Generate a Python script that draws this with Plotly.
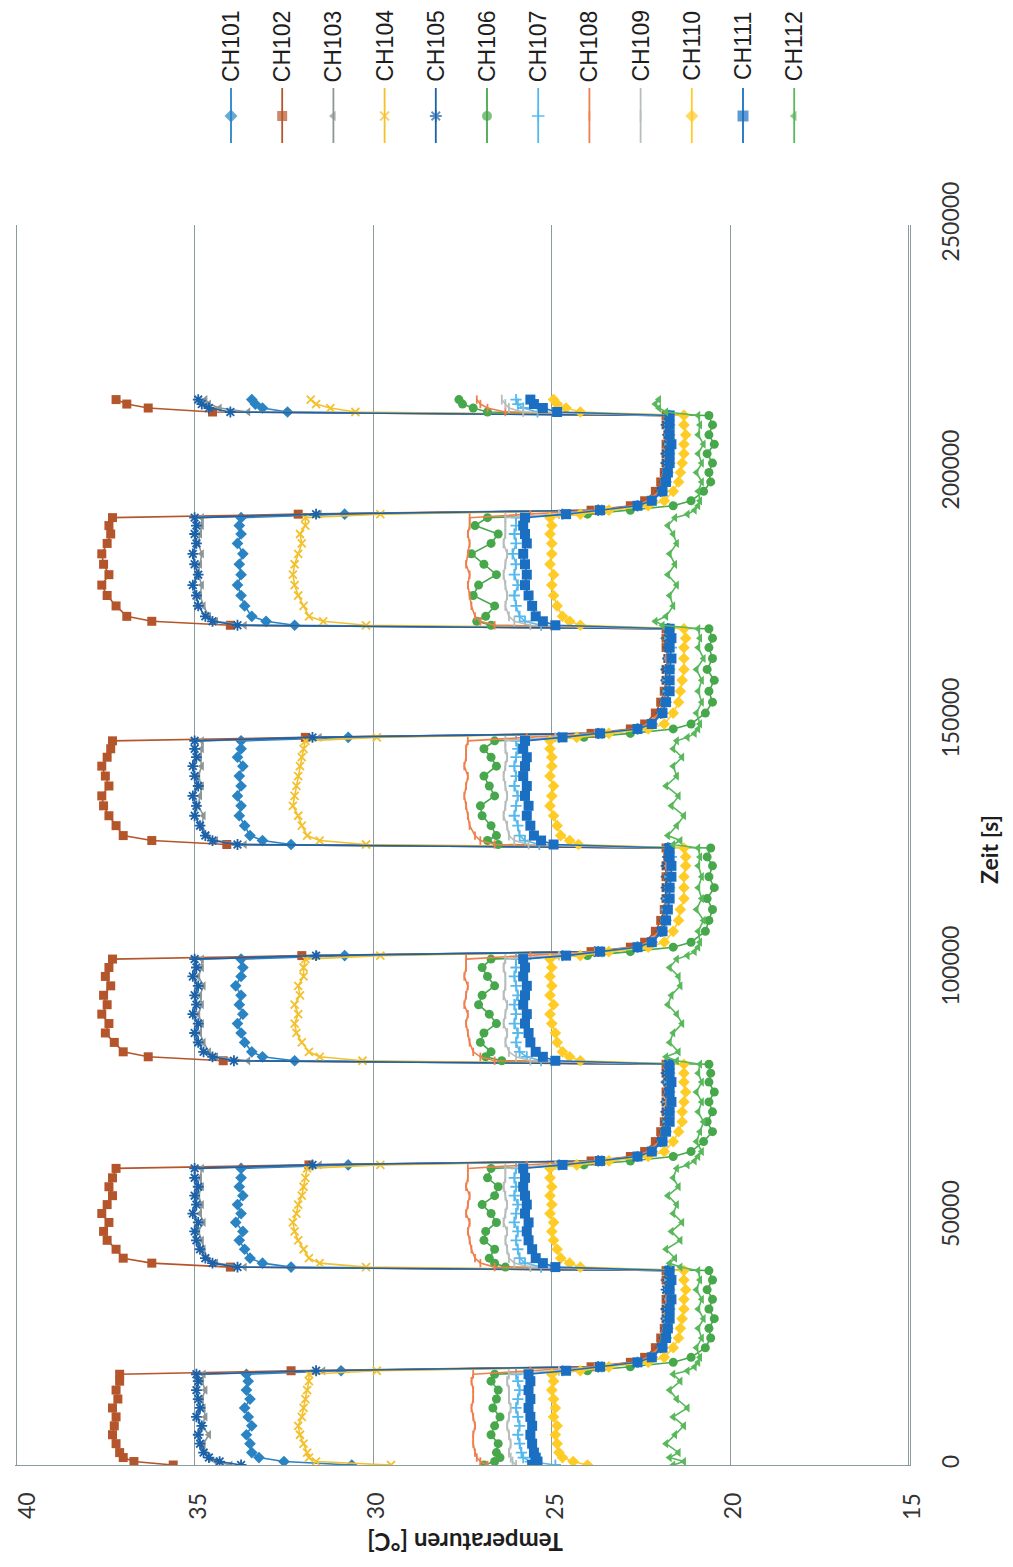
import plotly.graph_objects as go

# ---------------- data ----------------
# sample times [s], one list per phase (H = heated, C = cooled)
time_s = [
    [0, 700, 1500, 2500, 4300, 6100, 7900, 9700, 11500, 13300, 15100, 16900, 18300],
    [19000, 19800, 20700, 21700, 23650, 25600, 27550, 29500, 31450, 33400, 35350, 37300, 39200],
    [39900, 40700, 41700, 43500, 45300, 47100, 48900, 50700, 52500, 54300, 56100, 57900, 59800],
    [60500, 61300, 62200, 63200, 65200, 67200, 69200, 71200, 73200, 75200, 77200, 79000, 80800],
    [81500, 82300, 83300, 85200, 87100, 89000, 90900, 92800, 94700, 96600, 98500, 100300, 102000],
    [102700, 103500, 104400, 105400, 107600, 109800, 112000, 114200, 116400, 118600, 120800, 122600, 124400],
    [125100, 125900, 126900, 128900, 130900, 132900, 134900, 136900, 138900, 140900, 142700, 144400, 146000],
    [146700, 147500, 148400, 149400, 151600, 153800, 156000, 158200, 160400, 162600, 164800, 166700, 168600],
    [169300, 170100, 171100, 173200, 175300, 177400, 179500, 181600, 183700, 185800, 187700, 189400, 191000],
    [191700, 192500, 193400, 194400, 196300, 198200, 200100, 202000, 203900, 205800, 207700, 209700, 211600],
    [212300, 213100, 213900, 214800],
]

ch101 = [
    [30.6, 32.5, 33.2, 33.4, 33.45, 33.55, 33.4, 33.5, 33.6, 33.45, 33.55, 33.5, 33.55],
    [30.9, 23.7, 22.6, 22.2, 21.95, 21.85, 21.8, 21.8, 21.8, 21.75, 21.75, 21.8, 21.75],
    [32.3, 33.1, 33.45, 33.6, 33.75, 33.65, 33.85, 33.7, 33.8, 33.65, 33.75, 33.7, 33.7],
    [30.7, 23.7, 22.6, 22.2, 21.95, 21.85, 21.8, 21.8, 21.8, 21.75, 21.8, 21.75, 21.75],
    [32.2, 33.1, 33.4, 33.6, 33.7, 33.8, 33.65, 33.75, 33.7, 33.85, 33.7, 33.65, 33.7],
    [30.8, 23.8, 22.6, 22.2, 21.95, 21.85, 21.8, 21.8, 21.75, 21.8, 21.75, 21.75, 21.75],
    [32.3, 33.1, 33.45, 33.6, 33.75, 33.7, 33.8, 33.7, 33.75, 33.65, 33.8, 33.7, 33.7],
    [30.7, 23.7, 22.6, 22.2, 21.95, 21.85, 21.8, 21.8, 21.8, 21.75, 21.75, 21.8, 21.75],
    [32.2, 33.0, 33.4, 33.6, 33.7, 33.8, 33.7, 33.75, 33.65, 33.8, 33.7, 33.75, 33.7],
    [30.8, 23.7, 22.6, 22.2, 21.95, 21.85, 21.8, 21.8, 21.8, 21.75, 21.75, 21.75, 21.75],
    [32.4, 33.1, 33.3, 33.4],
]
ch102 = [
    [35.6, 36.7, 37.0, 37.1, 37.2, 37.3, 37.25, 37.2, 37.3, 37.15, 37.2, 37.1, 37.1],
    [32.3, 23.9, 22.8, 22.4, 22.1, 21.95, 21.85, 21.8, 21.8, 21.8, 21.75, 21.8, 21.8],
    [34.0, 36.2, 37.0, 37.2, 37.45, 37.55, 37.4, 37.6, 37.45, 37.3, 37.4, 37.3, 37.2],
    [31.8, 23.9, 22.8, 22.4, 22.1, 21.95, 21.85, 21.8, 21.8, 21.8, 21.75, 21.8, 21.8],
    [34.2, 36.3, 37.0, 37.25, 37.5, 37.4, 37.6, 37.45, 37.55, 37.35, 37.5, 37.4, 37.3],
    [32.0, 23.9, 22.8, 22.4, 22.1, 21.95, 21.85, 21.8, 21.8, 21.8, 21.8, 21.75, 21.8],
    [34.1, 36.2, 37.0, 37.2, 37.4, 37.55, 37.6, 37.4, 37.5, 37.6, 37.45, 37.35, 37.3],
    [31.9, 23.9, 22.8, 22.4, 22.1, 21.95, 21.85, 21.8, 21.8, 21.75, 21.8, 21.8, 21.8],
    [34.0, 36.2, 36.9, 37.2, 37.45, 37.6, 37.4, 37.55, 37.6, 37.45, 37.35, 37.4, 37.3],
    [32.1, 23.9, 22.8, 22.4, 22.1, 21.95, 21.85, 21.8, 21.8, 21.8, 21.75, 21.8, 21.8],
    [34.5, 36.3, 36.9, 37.2],
]
ch103 = [
    [34.0, 34.4, 34.6, 34.7, 34.75, 34.6, 34.8, 34.7, 34.75, 34.8, 34.7, 34.8, 34.75],
    [31.4, 23.7, 22.6, 22.2, 21.95, 21.85, 21.8, 21.8, 21.8, 21.75, 21.75, 21.8, 21.75],
    [33.6, 34.4, 34.65, 34.75, 34.8, 34.9, 34.75, 34.85, 34.8, 34.9, 34.8, 34.85, 34.8],
    [31.5, 23.7, 22.6, 22.2, 21.95, 21.85, 21.8, 21.8, 21.8, 21.75, 21.8, 21.75, 21.75],
    [33.5, 34.4, 34.6, 34.75, 34.85, 34.8, 34.9, 34.8, 34.85, 34.75, 34.9, 34.8, 34.8],
    [31.6, 23.7, 22.6, 22.2, 21.95, 21.85, 21.8, 21.8, 21.8, 21.75, 21.8, 21.75, 21.75],
    [33.6, 34.4, 34.65, 34.8, 34.75, 34.9, 34.85, 34.8, 34.9, 34.8, 34.85, 34.8, 34.8],
    [31.5, 23.7, 22.6, 22.2, 21.95, 21.85, 21.8, 21.8, 21.75, 21.8, 21.75, 21.8, 21.75],
    [33.6, 34.4, 34.6, 34.75, 34.85, 34.8, 34.9, 34.85, 34.8, 34.9, 34.85, 34.8, 34.8],
    [31.5, 23.7, 22.6, 22.2, 21.95, 21.85, 21.8, 21.8, 21.8, 21.75, 21.75, 21.8, 21.75],
    [33.5, 34.3, 34.6, 34.7],
]
ch104 = [
    [29.5, 31.6, 31.8, 31.85, 31.95, 32.05, 32.1, 32.0, 31.95, 31.9, 31.85, 31.8, 31.8],
    [29.9, 23.6, 22.6, 22.2, 21.9, 21.85, 21.8, 21.75, 21.75, 21.7, 21.75, 21.7, 21.75],
    [30.2, 31.5, 31.8, 31.95, 32.1, 32.2, 32.25, 32.15, 32.1, 32.0, 31.95, 31.9, 31.85],
    [29.8, 23.6, 22.6, 22.2, 21.9, 21.85, 21.8, 21.75, 21.75, 21.75, 21.7, 21.75, 21.75],
    [30.3, 31.5, 31.8, 32.0, 32.15, 32.2, 32.1, 32.2, 32.05, 32.1, 31.95, 31.95, 31.9],
    [29.8, 23.6, 22.6, 22.2, 21.9, 21.85, 21.8, 21.8, 21.75, 21.75, 21.7, 21.75, 21.75],
    [30.2, 31.5, 31.85, 32.0, 32.1, 32.25, 32.2, 32.15, 32.1, 32.05, 32.0, 31.95, 31.9],
    [29.9, 23.6, 22.6, 22.2, 21.9, 21.85, 21.8, 21.75, 21.75, 21.7, 21.75, 21.75, 21.75],
    [30.2, 31.4, 31.8, 31.95, 32.1, 32.2, 32.25, 32.2, 32.1, 32.0, 32.05, 31.9, 31.9],
    [29.8, 23.6, 22.6, 22.2, 21.9, 21.85, 21.8, 21.75, 21.75, 21.75, 21.7, 21.75, 21.75],
    [30.5, 31.2, 31.6, 31.75],
]
ch105 = [
    [33.7, 34.3, 34.6, 34.75, 34.85, 34.9, 34.8, 34.95, 34.85, 34.9, 34.95, 34.9, 34.95],
    [31.6, 23.7, 22.6, 22.2, 21.95, 21.85, 21.8, 21.8, 21.8, 21.75, 21.8, 21.75, 21.75],
    [33.8, 34.5, 34.7, 34.85, 34.95, 35.0, 34.9, 35.05, 34.95, 35.0, 34.9, 35.0, 35.0],
    [31.7, 23.7, 22.6, 22.2, 21.95, 21.85, 21.8, 21.8, 21.8, 21.75, 21.75, 21.8, 21.75],
    [33.9, 34.5, 34.75, 34.9, 35.0, 34.9, 35.05, 34.95, 35.0, 34.9, 35.05, 34.95, 35.0],
    [31.6, 23.7, 22.6, 22.2, 21.95, 21.85, 21.8, 21.8, 21.8, 21.75, 21.8, 21.75, 21.75],
    [33.8, 34.5, 34.7, 34.85, 35.0, 34.95, 35.05, 34.9, 35.0, 35.05, 34.95, 35.0, 35.0],
    [31.7, 23.7, 22.6, 22.2, 21.95, 21.85, 21.8, 21.8, 21.8, 21.75, 21.75, 21.75, 21.75],
    [33.8, 34.5, 34.7, 34.9, 34.95, 35.05, 34.9, 35.0, 35.05, 34.95, 35.0, 34.95, 35.0],
    [31.6, 23.7, 22.6, 22.2, 21.95, 21.85, 21.8, 21.8, 21.8, 21.75, 21.75, 21.8, 21.75],
    [34.0, 34.6, 34.8, 34.9],
]
ch106 = [
    [26.9, 26.6, 26.45, 26.55, 26.5, 26.7, 26.6, 26.45, 26.65, 26.55, 26.5, 26.7, 26.6],
    [24.0, 22.8, 21.6, 21.1, 20.7, 20.55, 20.6, 20.45, 20.6, 20.5, 20.65, 20.5, 20.6],
    [26.3, 26.6, 26.75, 26.6, 26.9, 26.85, 26.55, 26.7, 26.95, 26.6, 26.5, 26.8, 26.7],
    [24.1, 22.8, 21.6, 21.1, 20.75, 20.5, 20.65, 20.5, 20.6, 20.45, 20.6, 20.55, 20.6],
    [26.4, 26.85, 26.7, 27.0, 26.9, 26.55, 26.75, 27.05, 26.95, 26.6, 26.8, 26.95, 26.7],
    [24.0, 22.8, 21.6, 21.1, 20.7, 20.6, 20.5, 20.65, 20.45, 20.6, 20.5, 20.65, 20.55],
    [26.5, 26.8, 26.55, 26.7, 26.95, 27.0, 26.6, 26.75, 26.9, 26.55, 26.7, 26.9, 26.6],
    [24.1, 22.8, 21.6, 21.1, 20.7, 20.5, 20.6, 20.45, 20.65, 20.5, 20.6, 20.5, 20.6],
    [26.7, 27.1, 26.85, 26.6, 27.2, 27.05, 26.55, 26.9, 27.25, 26.7, 26.5, 27.15, 26.8],
    [24.0, 22.8, 21.6, 21.1, 20.75, 20.55, 20.6, 20.5, 20.65, 20.45, 20.6, 20.5, 20.6],
    [26.8, 27.2, 27.5, 27.6],
]
ch107 = [
    [24.9, 25.6, 25.8, 25.85, 25.9, 25.95, 25.9, 25.95, 26.0, 25.95, 25.9, 25.95, 26.0],
    [24.7, 23.6, 22.6, 22.2, 21.9, 21.8, 21.75, 21.75, 21.7, 21.7, 21.7, 21.7, 21.7],
    [25.3, 25.75, 25.9, 25.95, 26.0, 25.95, 26.05, 26.0, 25.95, 26.05, 26.0, 26.05, 26.0],
    [24.8, 23.6, 22.6, 22.2, 21.9, 21.8, 21.75, 21.7, 21.75, 21.7, 21.7, 21.7, 21.7],
    [25.3, 25.7, 25.9, 26.0, 25.95, 26.05, 26.0, 26.05, 25.95, 26.0, 26.05, 26.0, 26.0],
    [24.7, 23.6, 22.6, 22.2, 21.9, 21.8, 21.8, 21.75, 21.7, 21.7, 21.7, 21.65, 21.7],
    [25.35, 25.75, 25.9, 25.95, 26.05, 26.0, 25.95, 26.05, 26.0, 26.05, 26.0, 25.95, 26.0],
    [24.8, 23.6, 22.6, 22.2, 21.9, 21.8, 21.75, 21.75, 21.7, 21.7, 21.65, 21.7, 21.7],
    [25.3, 25.75, 25.9, 26.0, 26.05, 25.95, 26.05, 26.0, 26.1, 26.0, 26.05, 26.0, 26.0],
    [24.7, 23.6, 22.6, 22.2, 21.9, 21.8, 21.75, 21.7, 21.7, 21.7, 21.7, 21.7, 21.7],
    [25.4, 25.8, 25.95, 26.0],
]
ch108 = [
    [26.8, 27.0, 27.1, 27.15, 27.2, 27.2, 27.15, 27.2, 27.25, 27.2, 27.2, 27.25, 27.2],
    [25.6, 23.8, 22.7, 22.3, 22.0, 21.85, 21.8, 21.8, 21.75, 21.8, 21.75, 21.75, 21.75],
    [26.6, 27.0, 27.15, 27.25, 27.3, 27.35, 27.3, 27.4, 27.35, 27.3, 27.4, 27.35, 27.35],
    [25.7, 23.8, 22.7, 22.3, 22.0, 21.85, 21.8, 21.75, 21.8, 21.75, 21.75, 21.8, 21.75],
    [26.6, 27.0, 27.2, 27.3, 27.35, 27.4, 27.35, 27.45, 27.4, 27.35, 27.45, 27.4, 27.4],
    [25.6, 23.8, 22.7, 22.3, 22.0, 21.85, 21.85, 21.8, 21.75, 21.75, 21.8, 21.75, 21.75],
    [26.6, 27.0, 27.15, 27.3, 27.35, 27.4, 27.45, 27.4, 27.35, 27.45, 27.4, 27.4, 27.35],
    [25.7, 23.8, 22.7, 22.3, 22.0, 21.85, 21.8, 21.8, 21.75, 21.8, 21.75, 21.75, 21.75],
    [26.6, 27.0, 27.15, 27.25, 27.3, 27.35, 27.3, 27.4, 27.35, 27.3, 27.35, 27.3, 27.3],
    [25.6, 23.8, 22.7, 22.3, 22.0, 21.85, 21.8, 21.8, 21.75, 21.75, 21.8, 21.75, 21.75],
    [26.3, 26.8, 27.0, 27.1],
]
ch109 = [
    [26.0, 26.1, 26.15, 26.2, 26.15, 26.2, 26.25, 26.2, 26.15, 26.2, 26.2, 26.25, 26.2],
    [24.8, 23.6, 22.6, 22.2, 21.9, 21.8, 21.8, 21.75, 21.75, 21.7, 21.75, 21.7, 21.7],
    [25.6, 26.05, 26.2, 26.25, 26.3, 26.25, 26.35, 26.3, 26.25, 26.3, 26.35, 26.3, 26.3],
    [24.9, 23.6, 22.6, 22.2, 21.9, 21.8, 21.75, 21.75, 21.7, 21.75, 21.7, 21.7, 21.7],
    [25.6, 26.0, 26.2, 26.3, 26.25, 26.35, 26.3, 26.25, 26.35, 26.3, 26.3, 26.35, 26.3],
    [24.8, 23.6, 22.6, 22.2, 21.9, 21.8, 21.8, 21.75, 21.7, 21.7, 21.75, 21.7, 21.7],
    [25.65, 26.05, 26.2, 26.25, 26.35, 26.3, 26.25, 26.3, 26.35, 26.3, 26.25, 26.3, 26.3],
    [24.9, 23.6, 22.6, 22.2, 21.9, 21.8, 21.75, 21.75, 21.7, 21.7, 21.7, 21.75, 21.7],
    [25.6, 26.05, 26.2, 26.3, 26.25, 26.3, 26.35, 26.3, 26.25, 26.35, 26.3, 26.3, 26.3],
    [24.8, 23.6, 22.6, 22.2, 21.9, 21.8, 21.8, 21.75, 21.7, 21.7, 21.7, 21.7, 21.7],
    [25.8, 26.2, 26.3, 26.4],
]
ch110 = [
    [24.0, 24.4, 24.7, 24.8, 24.85, 24.9, 24.85, 24.95, 24.9, 24.95, 25.0, 24.95, 25.0],
    [24.2, 23.4, 22.3, 21.85, 21.6, 21.45, 21.4, 21.35, 21.3, 21.3, 21.25, 21.3, 21.3],
    [24.2, 24.5, 24.75, 24.85, 24.95, 25.0, 24.95, 25.05, 25.0, 25.05, 25.0, 25.05, 25.05],
    [24.3, 23.4, 22.3, 21.85, 21.6, 21.45, 21.35, 21.35, 21.3, 21.25, 21.3, 21.3, 21.3],
    [24.2, 24.5, 24.7, 24.85, 24.9, 25.0, 25.05, 24.95, 25.05, 25.0, 25.05, 25.0, 25.05],
    [24.2, 23.4, 22.3, 21.85, 21.6, 21.45, 21.4, 21.3, 21.3, 21.3, 21.25, 21.25, 21.3],
    [24.25, 24.5, 24.75, 24.85, 24.95, 25.05, 25.0, 24.95, 25.05, 25.0, 25.0, 25.05, 25.05],
    [24.3, 23.4, 22.3, 21.85, 21.6, 21.45, 21.4, 21.35, 21.3, 21.3, 21.3, 21.25, 21.3],
    [24.2, 24.5, 24.7, 24.85, 24.95, 25.0, 24.95, 25.05, 25.0, 25.0, 25.05, 25.0, 25.05],
    [24.2, 23.4, 22.3, 21.85, 21.6, 21.45, 21.4, 21.35, 21.3, 21.3, 21.25, 21.3, 21.3],
    [24.2, 24.6, 24.85, 24.95],
]
ch111 = [
    [25.55, 25.4, 25.45, 25.5, 25.55, 25.6, 25.55, 25.6, 25.65, 25.6, 25.65, 25.6, 25.65],
    [24.6, 23.65, 22.6, 22.2, 21.9, 21.8, 21.75, 21.7, 21.7, 21.65, 21.7, 21.65, 21.7],
    [24.9, 25.25, 25.45, 25.55, 25.65, 25.7, 25.65, 25.75, 25.7, 25.75, 25.8, 25.75, 25.8],
    [24.7, 23.65, 22.6, 22.2, 21.9, 21.8, 21.7, 21.7, 21.65, 21.7, 21.65, 21.7, 21.7],
    [24.9, 25.25, 25.45, 25.6, 25.65, 25.75, 25.7, 25.8, 25.75, 25.7, 25.8, 25.75, 25.8],
    [24.6, 23.65, 22.6, 22.2, 21.9, 21.8, 21.75, 21.7, 21.7, 21.65, 21.65, 21.7, 21.7],
    [24.95, 25.3, 25.5, 25.6, 25.7, 25.65, 25.75, 25.7, 25.8, 25.75, 25.7, 25.8, 25.75],
    [24.7, 23.65, 22.6, 22.2, 21.9, 21.8, 21.7, 21.7, 21.7, 21.65, 21.7, 21.65, 21.7],
    [24.9, 25.25, 25.45, 25.55, 25.65, 25.75, 25.7, 25.75, 25.8, 25.7, 25.75, 25.8, 25.75],
    [24.6, 23.65, 22.6, 22.2, 21.9, 21.8, 21.75, 21.7, 21.7, 21.65, 21.7, 21.7, 21.7],
    [24.85, 25.25, 25.5, 25.6],
]
ch112 = [
    [21.6, 21.3, 21.7, 21.45, 21.8, 21.55, 21.3, 21.6, 21.2, 21.5, 21.7, 21.4, 21.6],
    [21.2, 21.0, 20.9, 20.85, 20.95, 20.8, 20.9, 20.75, 20.9, 20.8, 20.95, 20.85, 20.9],
    [21.4, 21.7, 21.55, 21.8, 21.4, 21.65, 21.35, 21.6, 21.5, 21.75, 21.45, 21.6, 21.5],
    [21.2, 21.0, 20.9, 20.8, 20.95, 20.85, 20.75, 20.9, 20.8, 20.95, 20.8, 20.9, 20.85],
    [21.5, 21.8, 21.45, 21.7, 21.6, 21.35, 21.5, 21.75, 21.65, 21.4, 21.45, 21.7, 21.5],
    [21.2, 21.0, 20.9, 20.85, 20.9, 20.75, 20.95, 20.8, 20.9, 20.8, 20.9, 20.85, 20.9],
    [21.6, 21.4, 21.75, 21.5, 21.3, 21.65, 21.45, 21.8, 21.5, 21.6, 21.35, 21.6, 21.5],
    [21.2, 21.0, 20.9, 20.85, 20.95, 20.8, 20.9, 20.8, 20.95, 20.75, 20.9, 20.85, 20.9],
    [21.9, 22.1, 21.8, 21.6, 21.7, 21.5, 21.75, 21.55, 21.7, 21.5, 21.6, 21.75, 21.55],
    [21.2, 21.0, 20.9, 20.85, 20.9, 20.8, 20.95, 20.8, 20.9, 20.75, 20.9, 20.85, 20.9],
    [21.8, 22.0, 22.1, 22.0],
]

channel_names = ["CH101", "CH102", "CH103", "CH104", "CH105", "CH106",
                 "CH107", "CH108", "CH109", "CH110", "CH111", "CH112"]
channel_values = [ch101, ch102, ch103, ch104, ch105, ch106,
                  ch107, ch108, ch109, ch110, ch111, ch112]

temp_ticks = [40, 35, 30, 25, 20, 15]
time_ticks = [0, 50000, 100000, 150000, 200000, 250000]

# ---------------- styles ----------------
colors = ["#2a84c4", "#b5552b", "#8d9696", "#f3c02e", "#1c62a9", "#47a74b",
          "#55b9ee", "#ef7f4d", "#b7bdbd", "#ffcb25", "#1a6fc2", "#58b85b"]
symbols = ["diamond", "square", "triangle-left", "x-thin", "asterisk", "circle",
           "cross-thin", "line-ns", "line-ns", "diamond", "square", "triangle-left"]
sizes = [9, 9, 8, 8, 9, 9, 8, 6, 7, 9, 10, 8]
open_syms = {"x-thin", "asterisk", "cross-thin", "line-ns"}

# page body has an 8px margin -> figure is 997x1551 and sits at (8,8) in the window
OFF = 8
W, H = 1013 - 2 * OFF, 1567 - 2 * OFF
PL, PR, PT, PB = 15, 910, 225, 1465     # plot area in window pixels
GRID = "#8c9c9e"
FONT_AX = "Lato"
FONT_LEG = "Liberation Sans"


def px(p):  # window x pixel -> paper fraction
    return (p - OFF) / W


def py(p):  # window y pixel -> paper fraction
    return 1 - (p - OFF) / H


def flat(parts):
    out = []
    for p in parts:
        out.extend(p)
    return out


t_flat = flat(time_s)

fig = go.Figure()
for name, vals, col, sym, sz in zip(channel_names, channel_values, colors, symbols, sizes):
    for tp, vp in zip(time_s, vals):
        assert len(tp) == len(vp), name
    is_open = sym in open_syms
    fig.add_trace(go.Scatter(
        x=flat(vals), y=t_flat, mode="lines+markers", name=name,
        line=dict(color=col, width=1.6),
        marker=dict(symbol=sym, size=sz, color=col,
                    line=dict(color=col, width=1.8 if is_open else 0)),
        showlegend=False, xaxis="x", yaxis="y", hoverinfo="skip"))

# manual rotated legend (overlay axes in window pixels)
leg_x0, leg_dx = 231, 51.2
for i, (name, col, sym, sz) in enumerate(zip(channel_names, colors, symbols, sizes)):
    lx = leg_x0 + leg_dx * i
    is_open = sym in open_syms
    fig.add_trace(go.Scatter(
        x=[lx, lx, lx], y=[88, 116, 143], mode="lines+markers",
        line=dict(color=col, width=1.8),
        marker=dict(symbol=sym, size=[0, sz + 1, 0], color=col,
                    line=dict(color=col, width=1.8 if is_open else 0)),
        showlegend=False, xaxis="x2", yaxis="y2", hoverinfo="skip"))
    fig.add_annotation(x=lx, y=46, xref="x2", yref="y2", text=name, textangle=-90,
                       showarrow=False, xanchor="center", yanchor="middle",
                       font=dict(family=FONT_LEG, size=23, color="#1e1e1e"))

# temperature tick labels (rotated, as in the reference); the edge label is nudged inward
for tv in temp_ticks:
    fig.add_annotation(x=tv, xref="x", y=py(1506), yref="paper", text=str(tv),
                       textangle=-90, showarrow=False, xanchor="center", yanchor="middle",
                       xshift=10 if tv == temp_ticks[0] else 2,
                       font=dict(family=FONT_AX, size=23, color="#333333"))

fig.add_annotation(x=px(989), y=py(850), xref="paper", yref="paper",
                   text="<b>Zeit [s]</b>", textangle=-90, showarrow=False,
                   xanchor="center", yanchor="middle",
                   font=dict(family=FONT_AX, size=23, color="#1e1e1e"))
fig.add_annotation(x=px(465), y=py(1543), xref="paper", yref="paper",
                   text="<b>Temperaturen [°C]</b>", textangle=180, showarrow=False,
                   xanchor="center", yanchor="middle",
                   font=dict(family=FONT_AX, size=24, color="#1e1e1e"))

fig.update_layout(
    template="none",
    width=W, height=H, margin=dict(l=0, r=0, t=0, b=0, pad=0, autoexpand=False),
    paper_bgcolor="white", plot_bgcolor="rgba(0,0,0,0)",
    showlegend=False,
    xaxis=dict(domain=[px(PL), px(PR)], range=[40.03, 14.97], tickvals=temp_ticks,
               showticklabels=False,
               showgrid=True, gridcolor=GRID, gridwidth=1.3,
               showline=True, linecolor=GRID, linewidth=1.3, zeroline=False,
               ticks="", automargin=False,
               anchor="y", fixedrange=True),
    yaxis=dict(domain=[py(PB), py(PT)], range=[0, 250000], tickvals=time_ticks,
               tickformat="d", side="right", showgrid=False,
               showline=True, linecolor=GRID, linewidth=1.3, zeroline=False,
               ticks="", tickangle=-90, ticklabelstandoff=20, automargin=False,
               ticklabeloverflow="allow",
               tickfont=dict(family=FONT_AX, size=23, color="#333333"),
               anchor="x", fixedrange=True),
    xaxis2=dict(domain=[0, 1], range=[OFF, OFF + W], visible=False, anchor="y2",
                fixedrange=True, automargin=False),
    yaxis2=dict(domain=[0, 1], range=[OFF + H, OFF], visible=False, anchor="x2",
                fixedrange=True, automargin=False),
)

fig.write_html("out.html")
